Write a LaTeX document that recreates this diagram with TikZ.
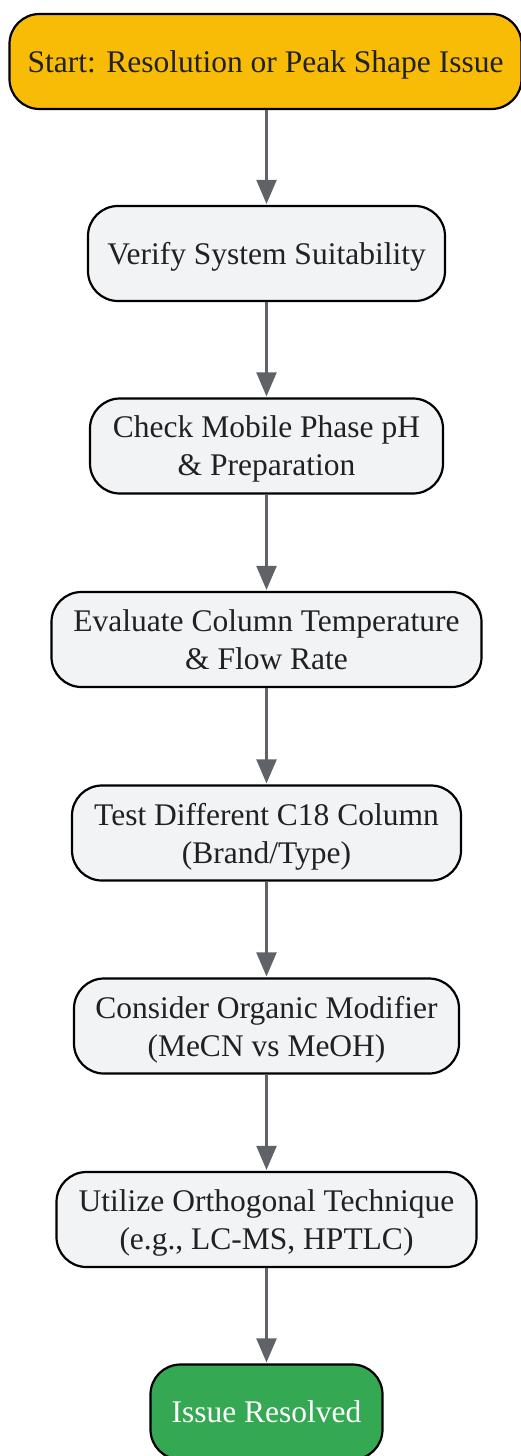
\documentclass[tikz,border=0pt]{standalone}
\usepackage{fontspec}
\setmainfont{Liberation Serif}
\usetikzlibrary{arrows.meta}
\definecolor{startfill}{HTML}{F9BC06}
\definecolor{endfill}{HTML}{34A853}
\definecolor{stepfill}{HTML}{F1F3F4}
\definecolor{txt}{HTML}{202124}
\definecolor{arrowgray}{HTML}{5F6368}
\tikzset{
  x=1pt, y=-1pt,
  box/.style={draw=black, line width=2.2pt, rounded corners=30pt, minimum height=95pt,
    align=center, font=\fontsize{31.5}{38}\selectfont, text=txt, inner sep=0pt, text depth=0pt},
  stepbox/.style={box, fill=stepfill},
  startbox/.style={box, fill=startfill},
  endbox/.style={box, fill=endfill, text=white},
  flow/.style={draw=arrowgray, line width=2.2pt, -{Triangle[length=24pt, width=20pt]}, shorten >=1pt}
}
\begin{document}
\begin{tikzpicture}
\useasboundingbox (0,0) rectangle (521,1456);
\node[startbox, minimum width=512pt] (n1) at (265.5,61.5) {Start: Resolution or Peak Shape Issue};
\node[stepbox, minimum width=357pt] (n2) at (266.5,253.5) {Verify System Suitability};
\node[stepbox, minimum width=353pt] (n3) at (266.5,446) {Check Mobile Phase pH\\\& Preparation};
\node[stepbox, minimum width=430pt] (n4) at (266.5,639.5) {Evaluate Column Temperature\\\& Flow Rate};
\node[stepbox, minimum width=389pt] (n5) at (266.5,833) {Test Different C18 Column\\(Brand/Type)};
\node[stepbox, minimum width=385pt] (n6) at (266.5,1026) {Consider Organic Modifier\\(MeCN vs MeOH)};
\node[stepbox, minimum width=420pt] (n7) at (266.5,1219.5) {Utilize Orthogonal Technique\\(e.g., LC-MS, HPTLC)};
\node[endbox, minimum width=232pt] (n8) at (266.5,1412) {Issue Resolved};
\draw[flow] (n1.south -| n2.north) -- (n2.north);
\draw[flow] (n2.south) -- (n3.north);
\draw[flow] (n3.south) -- (n4.north);
\draw[flow] (n4.south) -- (n5.north);
\draw[flow] (n5.south) -- (n6.north);
\draw[flow] (n6.south) -- (n7.north);
\draw[flow] (n7.south) -- (n8.north);
\end{tikzpicture}
\end{document}
